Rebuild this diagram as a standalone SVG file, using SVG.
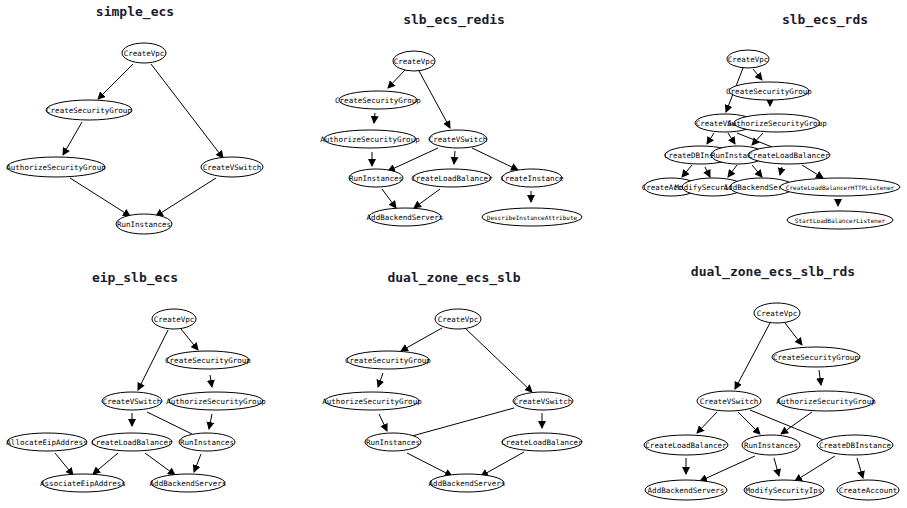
<svg xmlns="http://www.w3.org/2000/svg" width="907" height="508" viewBox="0 0 907 508">
<style>
.t{font-family:"DejaVu Sans Mono",monospace;font-weight:bold;font-size:13px;fill:#1a1a2e;text-anchor:middle}
ellipse{fill:#fff;stroke:#000;stroke-width:1}
text.n{font-family:"DejaVu Sans Mono",monospace;font-size:7.5px;text-anchor:middle;dominant-baseline:central}
text.s{font-family:"DejaVu Sans Mono",monospace;font-size:6px;text-anchor:middle;dominant-baseline:central}
.e line{stroke:#000;stroke-width:1;marker-end:url(#a)}
.e line.na{marker-end:none}
</style>
<defs><marker id="a" markerWidth="8" markerHeight="8" refX="7" refY="4" orient="auto" markerUnits="userSpaceOnUse"><path d="M0,0 L8,4 L0,8 z" fill="#000"/></marker></defs>
<rect width="907" height="508" fill="#fff"/>
<text class="t" x="135" y="16">simple_ecs</text>
<text class="t" x="454" y="24">slb_ecs_redis</text>
<text class="t" x="825" y="24">slb_ecs_rds</text>
<text class="t" x="135" y="282">eip_slb_ecs</text>
<text class="t" x="454" y="282">dual_zone_ecs_slb</text>
<text class="t" x="773" y="276">dual_zone_ecs_slb_rds</text>
<g class="e" id="connectors">
<line x1="133" y1="64" x2="98" y2="99"/><line x1="151" y1="64" x2="223" y2="158"/><line x1="82" y1="122" x2="63" y2="155"/><line x1="70" y1="178" x2="130" y2="216"/><line x1="216" y1="178" x2="156" y2="216"/>
<line x1="405" y1="70" x2="388" y2="88"/><line x1="419" y1="71" x2="450" y2="128"/><line x1="375" y1="113" x2="374" y2="123"/><line x1="372" y1="152" x2="372" y2="166"/><line x1="438" y1="148" x2="388" y2="171"/><line x1="455" y1="151" x2="454" y2="164"/><line x1="472" y1="148" x2="518" y2="170"/><line x1="531" y1="191" x2="531" y2="202"/><line x1="382" y1="189" x2="396" y2="208"/><line x1="440" y1="189" x2="414" y2="208"/>
<line x1="743" y1="68" x2="726" y2="112"/><line x1="753" y1="69" x2="762" y2="80"/><line x1="770" y1="100" x2="770" y2="106"/><line x1="714" y1="133" x2="707" y2="144"/><line x1="728" y1="133" x2="735" y2="144"/><line class="na" x1="737" y1="133" x2="772" y2="147"/><line x1="763" y1="133" x2="752" y2="145"/><line x1="692" y1="165" x2="682" y2="177"/><line x1="705" y1="167" x2="710" y2="177"/><line x1="737" y1="165" x2="728" y2="177"/><line x1="752" y1="165" x2="762" y2="177"/><line x1="782" y1="167" x2="780" y2="175"/><line x1="802" y1="165" x2="823" y2="178"/><line x1="838" y1="200" x2="838" y2="206"/>
<line x1="168" y1="330" x2="138" y2="390"/><line x1="181" y1="329" x2="198" y2="350"/><line x1="210" y1="375" x2="212" y2="387"/><line x1="132" y1="413" x2="132" y2="426"/><line class="na" x1="147" y1="412" x2="192" y2="434"/><line x1="212" y1="414" x2="209" y2="429"/><line x1="55" y1="453" x2="73" y2="475"/><line x1="118" y1="453" x2="93" y2="474"/><line x1="145" y1="453" x2="175" y2="475"/><line x1="201" y1="454" x2="194" y2="472"/>
<line x1="442" y1="328" x2="401" y2="351"/><line x1="466" y1="329" x2="532" y2="392"/><line x1="383" y1="373" x2="378" y2="387"/><line x1="379" y1="414" x2="387" y2="431"/><line class="na" x1="514" y1="408" x2="412" y2="436"/><line x1="542" y1="413" x2="542" y2="428"/><line x1="407" y1="453" x2="452" y2="476"/><line x1="524" y1="452" x2="481" y2="476"/>
<line x1="770" y1="323" x2="735" y2="389"/><line x1="785" y1="323" x2="802" y2="345"/><line x1="819" y1="370" x2="821" y2="385"/><line x1="717" y1="412" x2="697" y2="433"/><line x1="738" y1="412" x2="760" y2="434"/><line class="na" x1="750" y1="410" x2="826" y2="441"/><line x1="812" y1="412" x2="781" y2="434"/><line x1="686" y1="458" x2="686" y2="474"/><line x1="755" y1="456" x2="700" y2="481"/><line x1="774" y1="458" x2="779" y2="476"/><line x1="835" y1="456" x2="795" y2="481"/><line x1="857" y1="458" x2="863" y2="478"/>
</g>
<g id="se_vpc"><ellipse cx="144" cy="53" rx="22" ry="10"/><text class="n" x="144" y="53">CreateVpc</text></g>
<g id="se_csg"><ellipse cx="89" cy="110" rx="43" ry="10"/><text class="n" x="89" y="110">CreateSecurityGroup</text></g>
<g id="se_asg"><ellipse cx="56" cy="167" rx="49" ry="10"/><text class="n" x="56" y="167">AuthorizeSecurityGroup</text></g>
<g id="se_vsw"><ellipse cx="232" cy="167" rx="31" ry="10"/><text class="n" x="232" y="167">CreateVSwitch</text></g>
<g id="se_run"><ellipse cx="144" cy="224" rx="28" ry="10"/><text class="n" x="144" y="224">RunInstances</text></g>

<g id="sr_vpc"><ellipse cx="414" cy="61" rx="21" ry="10"/><text class="n" x="414" y="61">CreateVpc</text></g>
<g id="sr_csg"><ellipse cx="378" cy="100" rx="39" ry="9"/><text class="n" x="378" y="100">CreateSecurityGroup</text></g>
<g id="sr_asg"><ellipse cx="370" cy="139" rx="46" ry="9"/><text class="n" x="370" y="139">AuthorizeSecurityGroup</text></g>
<g id="sr_vsw"><ellipse cx="458" cy="139" rx="29" ry="9"/><text class="n" x="458" y="139">CreateVSwitch</text></g>
<g id="sr_run"><ellipse cx="376" cy="178" rx="27" ry="9"/><text class="n" x="376" y="178">RunInstances</text></g>
<g id="sr_clb"><ellipse cx="452" cy="178" rx="39" ry="9"/><text class="n" x="452" y="178">CreateLoadBalancer</text></g>
<g id="sr_ci"><ellipse cx="532" cy="178" rx="30" ry="9"/><text class="n" x="532" y="178">CreateInstance</text></g>
<g id="sr_abs"><ellipse cx="405" cy="217" rx="36" ry="9"/><text class="n" x="405" y="217">AddBackendServers</text></g>
<g id="sr_dia"><ellipse cx="532" cy="217" rx="50" ry="9"/><text class="s" x="532" y="217">DescribeInstanceAttribute</text></g>

<g id="rd_vpc"><ellipse cx="748" cy="59" rx="21" ry="9"/><text class="n" x="748" y="59">CreateVpc</text></g>
<g id="rd_csg"><ellipse cx="769" cy="91" rx="40" ry="9"/><text class="n" x="769" y="91">CreateSecurityGroup</text></g>
<g id="rd_vsw"><ellipse cx="725" cy="123" rx="30" ry="9"/><text class="n" x="725" y="123">CreateVSwitch</text></g>
<g id="rd_asg"><ellipse cx="777" cy="123" rx="43" ry="9"/><text class="n" x="777" y="123">AuthorizeSecurityGroup</text></g>
<g id="rd_dbi"><ellipse cx="700" cy="155" rx="35" ry="9"/><text class="n" x="700" y="155">CreateDBInstance</text></g>
<g id="rd_run"><ellipse cx="738" cy="155" rx="27" ry="9"/><text class="n" x="738" y="155">RunInstances</text></g>
<g id="rd_clb"><ellipse cx="789" cy="155" rx="41" ry="9"/><text class="n" x="789" y="155">CreateLoadBalancer</text></g>
<g id="rd_ca"><ellipse cx="671" cy="187" rx="27" ry="9"/><text class="n" x="671" y="187">CreateAccount</text></g>
<g id="rd_msi"><ellipse cx="713" cy="187" rx="31" ry="9"/><text class="n" x="713" y="187">ModifySecurityIps</text></g>
<g id="rd_abs"><ellipse cx="762" cy="187" rx="32" ry="9"/><text class="n" x="762" y="187">AddBackendServers</text></g>
<g id="rd_http"><ellipse cx="840" cy="187" rx="60" ry="9"/><text class="s" x="840" y="187">CreateLoadBalancerHTTPListener</text></g>
<g id="rd_start"><ellipse cx="840" cy="220" rx="53" ry="9"/><text class="s" x="840" y="220">StartLoadBalancerListener</text></g>

<g id="ep_vpc"><ellipse cx="174" cy="319" rx="22" ry="10"/><text class="n" x="174" y="319">CreateVpc</text></g>
<g id="ep_csg"><ellipse cx="208" cy="360" rx="41" ry="9"/><text class="n" x="208" y="360">CreateSecurityGroup</text></g>
<g id="ep_vsw"><ellipse cx="132" cy="401" rx="30" ry="9"/><text class="n" x="132" y="401">CreateVSwitch</text></g>
<g id="ep_asg"><ellipse cx="216" cy="401" rx="47" ry="9"/><text class="n" x="216" y="401">AuthorizeSecurityGroup</text></g>
<g id="ep_aea"><ellipse cx="47" cy="442" rx="40" ry="9"/><text class="n" x="47" y="442">AllocateEipAddress</text></g>
<g id="ep_clb"><ellipse cx="132" cy="442" rx="40" ry="9"/><text class="n" x="132" y="442">CreateLoadBalancer</text></g>
<g id="ep_run"><ellipse cx="207" cy="442" rx="28" ry="9"/><text class="n" x="207" y="442">RunInstances</text></g>
<g id="ep_asea"><ellipse cx="83" cy="483" rx="41" ry="9"/><text class="n" x="83" y="483">AssociateEipAddress</text></g>
<g id="ep_abs"><ellipse cx="188" cy="483" rx="37" ry="9"/><text class="n" x="188" y="483">AddBackendServers</text></g>

<g id="dz_vpc"><ellipse cx="458" cy="319" rx="23" ry="10"/><text class="n" x="458" y="319">CreateVpc</text></g>
<g id="dz_csg"><ellipse cx="388" cy="360" rx="41" ry="9"/><text class="n" x="388" y="360">CreateSecurityGroup</text></g>
<g id="dz_asg"><ellipse cx="372" cy="401" rx="47" ry="9"/><text class="n" x="372" y="401">AuthorizeSecurityGroup</text></g>
<g id="dz_vsw"><ellipse cx="543" cy="401" rx="30" ry="9"/><text class="n" x="543" y="401">CreateVSwitch</text></g>
<g id="dz_run"><ellipse cx="393" cy="442" rx="28" ry="9"/><text class="n" x="393" y="442">RunInstances</text></g>
<g id="dz_clb"><ellipse cx="542" cy="442" rx="40" ry="9"/><text class="n" x="542" y="442">CreateLoadBalancer</text></g>
<g id="dz_abs"><ellipse cx="467" cy="483" rx="37" ry="9"/><text class="n" x="467" y="483">AddBackendServers</text></g>

<g id="dr_vpc"><ellipse cx="777" cy="313" rx="23" ry="10"/><text class="n" x="777" y="313">CreateVpc</text></g>
<g id="dr_csg"><ellipse cx="816" cy="357" rx="44" ry="10"/><text class="n" x="816" y="357">CreateSecurityGroup</text></g>
<g id="dr_vsw"><ellipse cx="729" cy="401" rx="32" ry="10"/><text class="n" x="729" y="401">CreateVSwitch</text></g>
<g id="dr_asg"><ellipse cx="826" cy="401" rx="48" ry="10"/><text class="n" x="826" y="401">AuthorizeSecurityGroup</text></g>
<g id="dr_clb"><ellipse cx="686" cy="445" rx="42" ry="10"/><text class="n" x="686" y="445">CreateLoadBalancer</text></g>
<g id="dr_run"><ellipse cx="771" cy="445" rx="29" ry="10"/><text class="n" x="771" y="445">RunInstances</text></g>
<g id="dr_dbi"><ellipse cx="855" cy="445" rx="38" ry="10"/><text class="n" x="855" y="445">CreateDBInstance</text></g>
<g id="dr_abs"><ellipse cx="686" cy="490" rx="41" ry="10"/><text class="n" x="686" y="490">AddBackendServers</text></g>
<g id="dr_msi"><ellipse cx="784" cy="490" rx="40" ry="10"/><text class="n" x="784" y="490">ModifySecurityIps</text></g>
<g id="dr_ca"><ellipse cx="868" cy="490" rx="31" ry="10"/><text class="n" x="868" y="490">CreateAccount</text></g>
</svg>
